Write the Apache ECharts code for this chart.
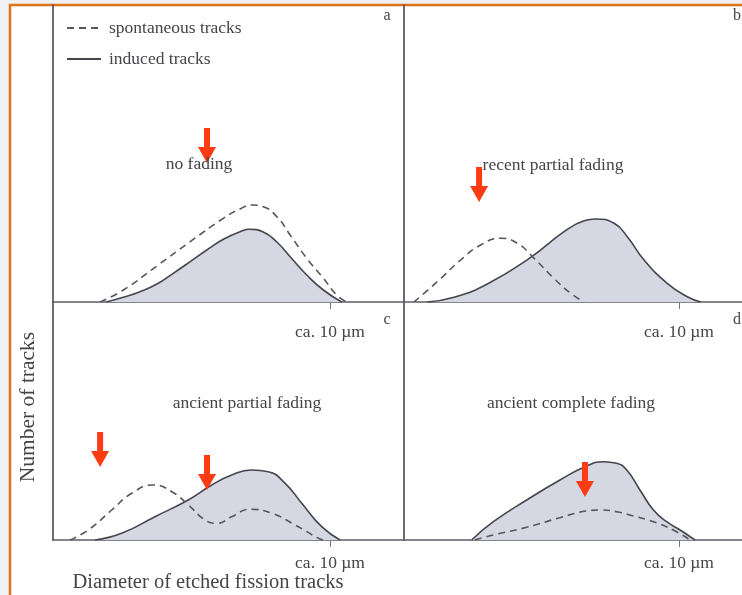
<!DOCTYPE html>
<html><head><meta charset="utf-8">
<script src="https://cdn.jsdelivr.net/npm/echarts@6/dist/echarts.min.js"></script>
<style>html,body{margin:0;padding:0;background:#f0f1f3;}#c{width:742px;height:595px;}</style>
</head><body><div id="c"></div>
<script>
// ---- text ----
const panelLetters = ['a', 'b', 'c', 'd'];
const panelTitles = ['no fading', 'recent partial fading', 'ancient partial fading', 'ancient complete fading'];
const seriesNames = ['spontaneous tracks', 'induced tracks'];
const tickValues = [10];
const tickLabel = 'ca. 10 µm';
const yAxisTitle = 'Number of tracks';
const xAxisTitle = 'Diameter of etched fission tracks';

// ---- data: [diameter (µm), relative number of tracks] ----
const spontA = [[1.70,0],[2.54,1.2],[3.75,3.6],[4.95,6.03],[6.15,8.37],[6.75,9.3],[7.17,9.7],[7.59,9.53],[8.08,8.53],[8.56,6.7],[9.16,4.37],[9.76,2.37],[10.24,0.7],[10.61,0]];
const inducA = [[1.92,0],[2.54,0.47],[3.14,1.03],[3.75,1.8],[4.34,2.87],[4.95,4.03],[5.55,5.2],[6.15,6.27],[6.75,7.03],[7.1,7.27],[7.59,7.0],[8.08,6.0],[8.56,4.53],[9.16,2.7],[9.76,1.2],[10.42,0]];

const spontB = [[0.36,0],[1.21,2.03],[2.06,4.2],[2.79,5.7],[3.52,6.37],[4.12,5.87],[4.73,4.37],[5.45,2.37],[6.06,0.87],[6.55,0]];
const inducB = [[0.85,0],[1.82,0.47],[3.03,1.8],[4.61,4.47],[5.82,7.03],[6.55,8.13],[6.97,8.3],[7.64,7.87],[8.12,6.53],[8.73,4.2],[9.57,1.87],[10.3,0.53],[10.79,0]];

const spontC = [[0.61,0],[1.27,1.0],[2.12,3.0],[2.84,4.67],[3.62,5.5],[4.29,4.83],[4.89,3.5],[5.49,2.0],[5.91,1.67],[6.45,2.33],[7.11,3.07],[7.9,2.67],[8.74,1.5],[9.58,0.17],[9.75,0]];
const inducC = [[1.52,0],[2.48,0.67],[3.68,2.33],[4.88,4.0],[5.73,5.5],[6.45,6.5],[7.17,7.0],[7.77,6.83],[8.38,5.67],[8.98,3.67],[9.7,1.33],[10.36,0]];

const spontD = [[2.58,0],[3.25,0.5],[4.46,1.27],[5.67,2.23],[6.64,2.9],[7.13,3.0],[7.73,2.83],[8.34,2.4],[9.07,1.83],[9.79,1.0],[10.4,0]];
const inducD = [[2.46,0],[3.25,1.83],[4.46,4.0],[5.67,6.0],[6.64,7.4],[7.25,7.83],[7.73,7.67],[8.1,7.0],[8.58,5.0],[9.07,3.0],[9.55,1.83],[10.04,1.0],[10.58,0]];

// arrow tips (annotations)
const arrowsA = [[5.56,13.9]];
const arrowsB = [[2.73,10.0]];
const arrowsC = [[1.70,7.3],[5.56,5.0]];
const arrowsD = [[6.58,4.3]];

const spont = [spontA, spontB, spontC, spontD];
const induc = [inducA, inducB, inducC, inducD];
const arrows = [arrowsA, arrowsB, arrowsC, arrowsD];

// ---- layout ----
const grids = [
  {left: 53, top: 5, width: 351, height: 297, xmax: 12.67, ymax: 29.7, margin: 21},
  {left: 404, top: 5, width: 338, height: 297, xmax: 12.29, ymax: 29.7, margin: 21},
  {left: 53, top: 302, width: 351, height: 238, xmax: 12.67, ymax: 23.8, margin: 14},
  {left: 404, top: 302, width: 338, height: 238, xmax: 12.29, ymax: 23.8, margin: 14}
];
const serif = '"Liberation Serif", "DejaVu Serif", serif';
const axisCol = '#5c5c66';
const textCol = '#454548';

const titlePos = [[199, 164], [553, 165], [247, 403], [571, 403]];
const letterPos = [[387, 16], [737, 16], [387, 320], [737, 320]];

const option = {
  animation: false,
  backgroundColor: 'transparent',
  legend: {
    data: seriesNames,
    orient: 'vertical',
    left: 66, top: 19, padding: 0,
    itemWidth: 34, itemHeight: 14, itemGap: 13,
    itemStyle: {opacity: 0},
    textStyle: {fontFamily: serif, fontSize: 17.5, color: textCol, padding: [0, 0, 0, 3]}
  },
  grid: grids.map(g => ({left: g.left, top: g.top, width: g.width, height: g.height, containLabel: false})),
  xAxis: grids.map((g, i) => ({
    type: 'value', gridIndex: i, min: 0, max: g.xmax,
    splitLine: {show: false},
    axisLine: {show: true, onZero: false, lineStyle: {color: axisCol, width: 1.6}},
    axisTick: {show: true, customValues: tickValues, length: 7, lineStyle: {color: '#777', width: 1}},
    axisLabel: {show: true, customValues: tickValues, formatter: () => tickLabel, margin: g.margin,
      fontFamily: serif, fontSize: 17.5, color: textCol}
  })),
  yAxis: grids.map((g, i) => ({
    type: 'value', gridIndex: i, min: 0, max: g.ymax,
    splitLine: {show: false},
    axisLine: {show: true, onZero: false, lineStyle: {color: axisCol, width: 1.8}},
    axisTick: {show: false}, axisLabel: {show: false}
  })),
  series: [],
  graphic: []
};

for (let i = 0; i < 4; i++) {
  option.series.push({
    name: seriesNames[1], type: 'line', xAxisIndex: i, yAxisIndex: i,
    data: induc[i], smooth: 0.5, symbol: 'none', z: 3,
    lineStyle: {color: '#45454d', width: 1.6, type: 'solid'},
    itemStyle: {color: '#45454d'},
    areaStyle: {color: '#d5d7e2', opacity: 1},
    markPoint: {
      symbol: 'path://M6,0L12,0L12,19L18,19L9,35L0,19L6,19Z',
      symbolSize: [18, 35], symbolOffset: [0, '-50%'],
      itemStyle: {color: '#ff3b14'}, label: {show: false}, z: 10,
      data: arrows[i].map(p => ({coord: p}))
    }
  });
  option.series.push({
    name: seriesNames[0], type: 'line', xAxisIndex: i, yAxisIndex: i,
    data: spont[i], smooth: 0.5, symbol: 'none', z: 4,
    lineStyle: {color: '#55555c', width: 1.6, type: [7, 5]},
    itemStyle: {color: '#55555c'}
  });
}

option.graphic.push({
  type: 'rect', z: -10, silent: true,
  shape: {x: 10, y: 5, width: 760, height: 620},
  style: {fill: '#ffffff', stroke: '#dd741a', lineWidth: 2.5}
});
panelTitles.forEach((t, i) => option.graphic.push({
  type: 'text', x: titlePos[i][0], y: titlePos[i][1], z: 20,
  style: {text: t, align: 'center', verticalAlign: 'middle', font: '17.5px ' + serif, fill: textCol}
}));
panelLetters.forEach((t, i) => option.graphic.push({
  type: 'text', x: letterPos[i][0], y: letterPos[i][1], z: 20,
  style: {text: t, align: 'center', verticalAlign: 'middle', font: '16px ' + serif, fill: textCol}
}));
option.graphic.push({
  type: 'text', x: 28, y: 407, rotation: Math.PI / 2, z: 20,
  style: {text: yAxisTitle, align: 'center', verticalAlign: 'middle', font: '21.5px ' + serif, fill: textCol}
});
option.graphic.push({
  type: 'text', x: 208, y: 583, z: 20,
  style: {text: xAxisTitle, align: 'center', verticalAlign: 'middle', font: '20.5px ' + serif, fill: textCol}
});

const chart = echarts.init(document.getElementById('c'), null, {renderer: 'canvas'});
chart.setOption(option);
</script></body></html>
